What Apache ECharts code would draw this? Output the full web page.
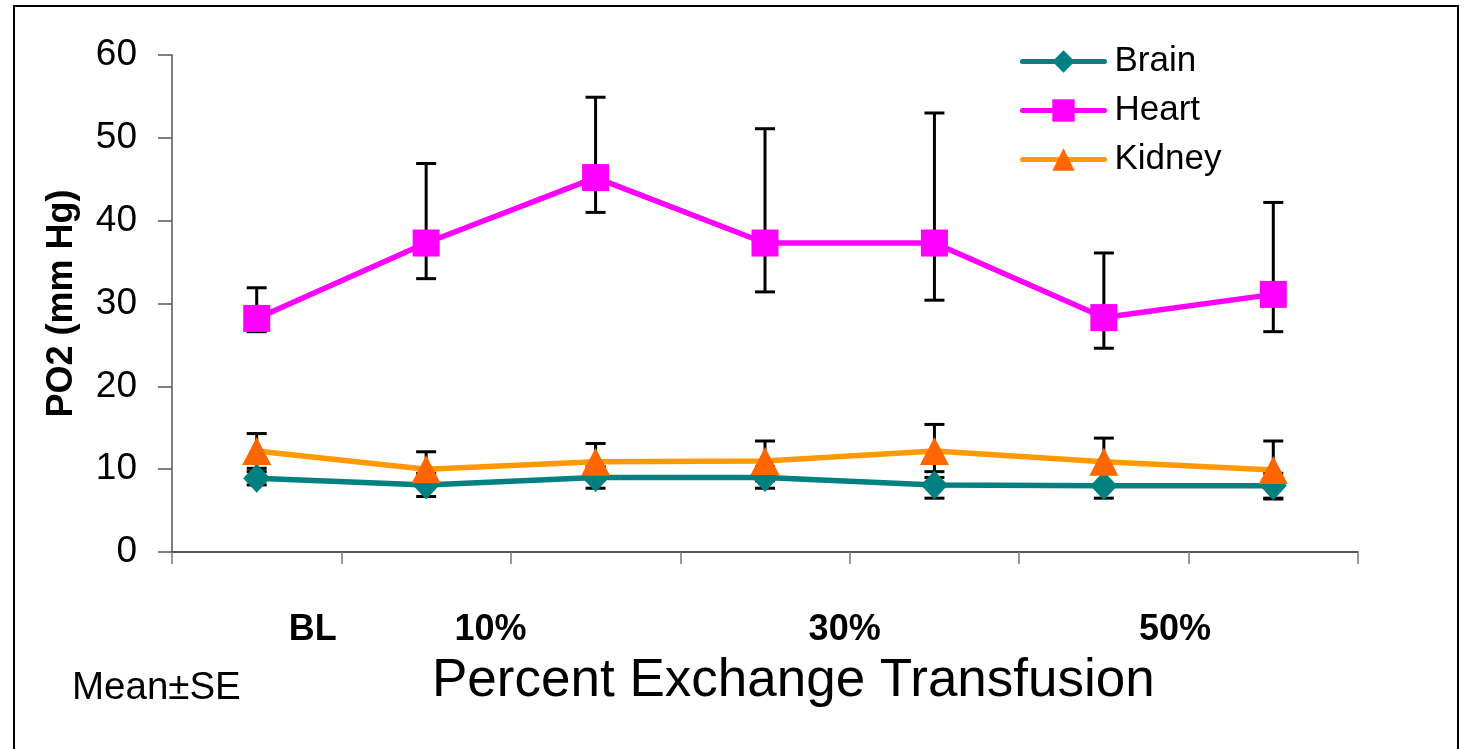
<!DOCTYPE html>
<html>
<head>
<meta charset="utf-8">
<script src="https://cdn.jsdelivr.net/npm/echarts@6/dist/echarts.min.js"></script>
<style>
html,body{margin:0;padding:0;background:#fff;}
#c{width:1465px;height:749px;}
</style>
</head>
<body>
<div id="c"></div>
<script>
// ---- data ----
const categories = ['1','2','3','4','5','6','7'];
const brain      = [8.9, 8.1, 9.0, 9.0, 8.1, 8.0, 8.0];
const brainErr   = [0.8, 1.4, 1.3, 1.3, 1.6, 1.5, 1.5];
const heart      = [28.2, 37.3, 45.2, 37.3, 37.3, 28.3, 31.1];
const heartHigh  = [31.9, 46.9, 54.9, 51.1, 53.0, 36.1, 42.2];
const heartLow   = [26.6, 33.0, 41.0, 31.4, 30.4, 24.6, 26.6];
const kidney     = [12.2, 10.0, 10.9, 11.0, 12.2, 10.9, 9.9];
const kidneyErr  = [2.1, 2.1, 2.2, 2.4, 3.2, 2.85, 3.5];
const yTicks     = [0, 10, 20, 30, 40, 50, 60];
const xTickLabels = ['BL', '10%', '30%', '50%'];
const xTickLabelAt = [0.83, 1.88, 3.97, 5.92];

const FONT = '"Liberation Sans", Arial, sans-serif';

function errData(vals, lo, hi) {
  return vals.map((v, i) => [i, lo[i], hi[i]]);
}
const brainBars  = errData(brain, brain.map((v,i)=>v-brainErr[i]), brain.map((v,i)=>v+brainErr[i]));
const heartBars  = errData(heart, heartLow, heartHigh);
const kidneyBars = errData(kidney, kidney.map((v,i)=>v-kidneyErr[i]), kidney.map((v,i)=>v+kidneyErr[i]));

function renderErr(params, api) {
  const x = api.value(0);
  const lo = api.coord([x, api.value(1)]);
  const hi = api.coord([x, api.value(2)]);
  const w = 10;
  const st = {stroke:'#000', lineWidth:3};
  return {
    type:'group',
    children:[
      {type:'line', shape:{x1:lo[0], y1:lo[1], x2:hi[0], y2:hi[1]}, style:st},
      {type:'line', shape:{x1:hi[0]-w, y1:hi[1], x2:hi[0]+w, y2:hi[1]}, style:st},
      {type:'line', shape:{x1:lo[0]-w, y1:lo[1], x2:lo[0]+w, y2:lo[1]}, style:st}
    ]
  };
}

const chart = echarts.init(document.getElementById('c'), null, {renderer:'canvas'});
chart.setOption({
  animation:false,
  backgroundColor:'#fff',
  grid:{left:172, top:55, width:1186, height:497, containLabel:false, outerBoundsMode:'none'},
  legend:{
    data:['Brain','Heart','Kidney'],
    orient:'vertical',
    left:1020, top:44, padding:0,
    itemWidth:82, itemHeight:28, itemGap:14,
    lineStyle:{width:5, cap:'round'},
    textStyle:{fontFamily:FONT, fontSize:35, color:'#000', lineHeight:35, padding:[0,0,0,5]}
  },
  xAxis:[{
    type:'category',
    data:categories,
    boundaryGap:true,
    axisLine:{lineStyle:{color:'#222', width:1.5}},
    axisTick:{show:true, length:12, lineStyle:{color:'#777', width:1.5}},
    axisLabel:{show:false},
    splitLine:{show:false}
  },{
    type:'value',
    min:0, max:7,
    position:'bottom',
    axisLine:{show:false},
    axisTick:{show:false},
    splitLine:{show:false},
    axisLabel:{
      customValues:xTickLabelAt,
      formatter:function(v){ const i = xTickLabelAt.indexOf(v); return i>=0 ? xTickLabels[i] : ''; },
      fontFamily:FONT, fontWeight:'bold', fontSize:36, color:'#000',
      verticalAlign:'middle', margin:78
    }
  }],
  yAxis:{
    type:'value',
    min:0, max:60, interval:10,
    name:'PO2 (mm Hg)',
    nameLocation:'middle',
    nameRotate:90,
    nameGap:92,
    nameTextStyle:{fontFamily:FONT, fontWeight:'bold', fontSize:36, color:'#000', padding:[0,0,0,0]},
    axisLine:{show:true, lineStyle:{color:'#555', width:1.5}},
    axisTick:{show:true, length:14, lineStyle:{color:'#555', width:1.5}},
    axisLabel:{fontFamily:FONT, fontSize:37, color:'#000', margin:35,
      formatter:function(v){ return yTicks.indexOf(v)>=0 ? String(v) : ''; }},
    splitLine:{show:false}
  },
  graphic:[
    {type:'polyline', shape:{points:[[14,749],[14,6],[1458,6],[1458,749]]}, style:{stroke:'#000', lineWidth:2, fill:null}, z:100},
    {type:'text', x:432, y:681, style:{text:'Percent Exchange Transfusion', font:'53px "Liberation Sans", Arial, sans-serif', fill:'#000', textVerticalAlign:'middle', textAlign:'left'}},
    {type:'text', x:72, y:688, style:{text:'Mean±SE', font:'38.5px "Liberation Sans", Arial, sans-serif', fill:'#000', textVerticalAlign:'middle', textAlign:'left'}}
  ],
  series:[
    {name:'Brain err', type:'custom', renderItem:renderErr, data:brainBars, encode:{x:0, y:[1,2]}, z:1, silent:true},
    {name:'Heart err', type:'custom', renderItem:renderErr, data:heartBars, encode:{x:0, y:[1,2]}, z:1, silent:true},
    {name:'Kidney err', type:'custom', renderItem:renderErr, data:kidneyBars, encode:{x:0, y:[1,2]}, z:1, silent:true},
    {name:'Brain', type:'line', data:brain, symbol:'diamond', symbolSize:[27,29], z:3,
      lineStyle:{color:'#008080', width:5.5}, itemStyle:{color:'#008080'}},
    {name:'Heart', type:'line', data:heart, symbol:'rect', symbolSize:27, z:4,
      lineStyle:{color:'#FF00FF', width:5.5}, itemStyle:{color:'#FF00FF'}},
    {name:'Kidney', type:'line', data:kidney, symbol:'triangle', symbolSize:[29,28], z:5,
      lineStyle:{color:'#FF9900', width:5.5}, itemStyle:{color:'#FF6600'}}
  ]
});
</script>
</body>
</html>
